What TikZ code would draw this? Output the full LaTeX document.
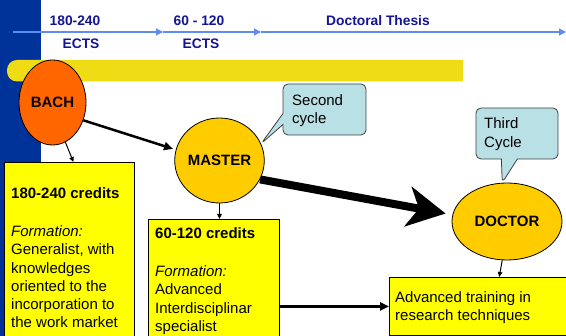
\documentclass[tikz,border=0pt]{standalone}
\usepackage{fontspec}
\setmainfont{Liberation Sans}
\usetikzlibrary{arrows.meta,shapes.geometric,shapes.callouts}
\definecolor{leftblue}{RGB}{0,51,153}
\definecolor{barYellow}{RGB}{240,220,20}
\definecolor{bachOrange}{RGB}{255,102,0}
\definecolor{goldFill}{RGB}{255,204,0}
\definecolor{boxYellow}{RGB}{255,255,0}
\definecolor{callFill}{RGB}{185,224,228}
\definecolor{callDraw}{RGB}{64,64,64}
\definecolor{tlBlue}{RGB}{95,140,240}
\definecolor{navyText}{RGB}{20,20,150}
\pgfdeclarelayer{bg}\pgfdeclarelayer{arr}\pgfsetlayers{bg,arr,main}
\begin{document}
\begin{tikzpicture}[x=1pt,y=-1pt,
  ell/.style={ellipse, draw=black, line width=0.8pt, inner sep=0pt, font=\bfseries\fontsize{15}{18}\selectfont},
  ybox/.style={rectangle, draw=black, line width=0.8pt, fill=boxYellow, anchor=north west, inner sep=0pt},
  txt/.style={anchor=north west, align=left, inner sep=0pt, font=\fontsize{15}{18.2}\selectfont},
  callbox/.style={rectangle callout, rounded corners=5pt, draw=callDraw, fill=callFill, line width=0.8pt, inner sep=0pt},
  thinarrow/.style={-{Triangle[length=5pt,width=4.5pt]}, line width=1pt},
  midarrow/.style={-{Triangle[length=9pt,width=8pt]}, line width=2.5pt},
  tlarrow/.style={draw=tlBlue, line width=1.2pt, -{Triangle[length=7pt,width=7pt]}},
  toplabel/.style={font=\bfseries\fontsize{13.8}{16}\selectfont, text=navyText, inner sep=0pt}]
\useasboundingbox (0,0) rectangle (566,336);
\begin{pgfonlayer}{bg}
  \fill[white] (0,0) rectangle (566,336);
  \fill[leftblue] (0,0) rectangle (41,336);
  \fill[barYellow] (463,60) [rounded corners=10pt] -- (7,60) -- (7,81.5) [sharp corners] -- (463,81.5) -- cycle;
  \coordinate (t0) at (13,32);
  \coordinate (t1) at (163,32);
  \coordinate (t2) at (261,32);
  \coordinate (t3) at (566,32);
  \draw[tlarrow] (t0) -- (t1);
  \draw[tlarrow] (t1) -- (t2);
  \draw[tlarrow] (t2) -- (t3);
\end{pgfonlayer}
\node[toplabel] (l1) at (75,21) {180-240};
\node[toplabel] (l2) at (81,44) {ECTS};
\node[toplabel] (l3) at (199,21) {60 - 120};
\node[toplabel] (l4) at (201,44) {ECTS};
\node[toplabel] (l5) at (378,21) {Doctoral Thesis};
% boxes
\node[ybox, minimum width=130pt, minimum height=190pt] (box1) at (4,162) {};
\node[txt] (box1t) at (11,187.5) {\textbf{180-240 credits}\\[20pt]\textit{Formation:}\\Generalist, with\\knowledges\\oriented to the\\incorporation to\\the work market};
\node[ybox, minimum width=131pt, minimum height=130pt] (box2) at (148,219) {};
\node[txt] (box2t) at (155,227.5) {\textbf{60-120 credits}\\[20pt]\textit{Formation:}\\Advanced\\Interdisciplinar\\specialist};
\node[ybox, minimum width=180pt, minimum height=58pt] (box3) at (389,277) {};
\node[txt] (box3t) at (395,291.5) {Advanced training in\\research techniques};
% ellipses
\node[ell, fill=bachOrange, minimum width=67pt, minimum height=85pt] (bach) at (52.5,102.5) {BACH};
\node[ell, fill=goldFill, minimum width=89pt, minimum height=85pt] (master) at (219.5,160.5) {MASTER};
\node[ell, fill=goldFill, minimum width=110pt, minimum height=77pt] (doctor) at (507,221.5) {DOCTOR};
% arrows
\begin{pgfonlayer}{arr}
  \draw[midarrow] (bach.-30) -- ([xshift=-3pt]master.165);
  \draw[thinarrow] (bach.-72) -- ([xshift=4pt]box1.north);
  \draw[thinarrow] (master.south) -- (master.south |- box2.north);
  \draw[line width=8pt, -{Stealth[length=38pt,width=40pt,inset=11pt]}] (master.-25) -- ([xshift=-6pt,yshift=8pt]doctor.west);
  \draw[midarrow, line width=3pt] (box2.east |- box3.west) -- (box3.west);
  \draw[thinarrow] (doctor.-97) -- ([xshift=-3pt]doctor.-97 |- box3.north);
\end{pgfonlayer}
% callouts
\node[callbox, minimum width=83pt, minimum height=51pt, callout absolute pointer={(master.22)}, callout pointer width=11pt] (c2) at (324.5,109.5) {};
\node[txt] (c2t) at (292,94.5) {Second\\cycle};
\node[callbox, minimum width=82pt, minimum height=51pt, callout absolute pointer={(doctor.97)}, callout pointer width=16pt] (c3) at (517,133.5) {};
\node[txt, font=\fontsize{15}{19}\selectfont] (c3t) at (484,117.5) {Third\\Cycle};
\end{tikzpicture}
\end{document}
